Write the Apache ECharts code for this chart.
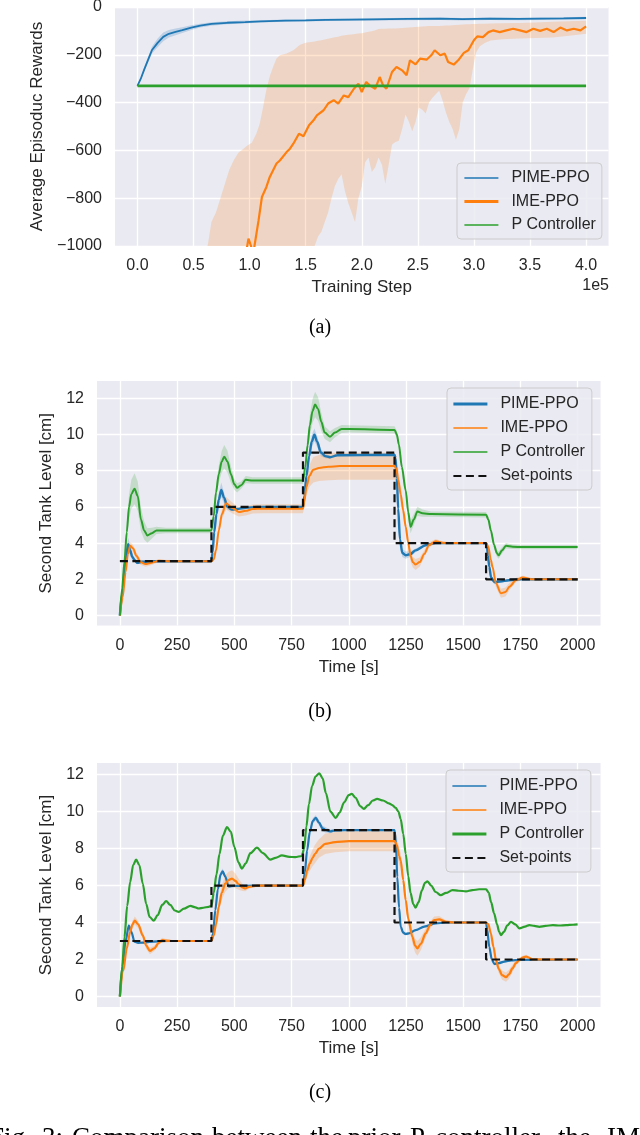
<!DOCTYPE html>
<html>
<head>
<meta charset="utf-8">
<script src="https://cdn.jsdelivr.net/npm/echarts@6/dist/echarts.min.js"></script>
<style>
  html, body { margin: 0; padding: 0; background: #fff; }
  #chart { width: 640px; height: 1135px; }
</style>
</head>
<body>
<div id="chart"></div>
<script>
// ---- tick labels ----
let aXTicks = [0, 0.5, 1.0, 1.5, 2.0, 2.5, 3.0, 3.5, 4.0];
let aYTicks = [-1000, -800, -600, -400, -200, 0];
let tXTicks = [0, 250, 500, 750, 1000, 1250, 1500, 1750, 2000];
let tYTicks = [0, 2, 4, 6, 8, 10, 12];

// ---- (a) average episodic rewards, x in 1e5 steps ----
let aBlueX = [0, 0.03, 0.06, 0.10, 0.13, 0.18, 0.23, 0.28, 0.34, 0.40, 0.48, 0.56, 0.66, 0.80, 0.96, 1.10, 1.32, 1.50, 1.68, 1.90, 2.10, 2.41, 2.70, 2.90, 3.14, 3.40, 3.60, 3.80, 4.00];
let aBlueY = [-330, -300, -262, -215, -180, -150, -125, -112, -104, -97, -86, -78, -71, -66, -63, -60, -57, -56, -54, -53, -52, -50, -49, -51, -49, -50, -49, -48, -46];
let aBlueS = [0, 5, 8, 12, 15, 18, 18, 16, 14, 12, 10, 8, 7, 6, 6, 5, 5, 5, 5, 5, 5, 5, 5, 5, 5, 5, 5, 5, 5];

let aOrangeX = [0.95, 0.99, 1.02, 1.04, 1.08, 1.11, 1.15, 1.18, 1.24, 1.27, 1.33, 1.36, 1.39, 1.44, 1.48, 1.53, 1.57, 1.60, 1.66, 1.70, 1.75, 1.79, 1.84, 1.88, 1.93, 1.97, 2.00, 2.04, 2.07, 2.12, 2.16, 2.19, 2.22, 2.27, 2.31, 2.36, 2.40, 2.43, 2.48, 2.52, 2.58, 2.62, 2.65, 2.70, 2.74, 2.77, 2.82, 2.86, 2.91, 2.95, 3.00, 3.03, 3.08, 3.13, 3.17, 3.23, 3.29, 3.35, 3.41, 3.47, 3.53, 3.59, 3.65, 3.71, 3.77, 3.83, 3.89, 3.95, 4.0];
let aOrangeY = [-1080, -969, -1010, -1010, -893, -795, -753, -711, -655, -642, -607, -593, -572, -530, -541, -495, -474, -453, -432, -404, -390, -404, -370, -377, -342, -321, -356, -314, -328, -342, -293, -328, -342, -272, -251, -265, -286, -223, -240, -216, -220, -202, -181, -202, -195, -230, -241, -223, -192, -181, -139, -123, -126, -105, -98, -105, -98, -91, -98, -105, -91, -100, -91, -105, -86, -98, -91, -98, -81];

let aBandX = [0.60, 0.63, 0.66, 0.70, 0.74, 0.78, 0.82, 0.86, 0.90, 0.94, 0.98, 1.02, 1.06, 1.09, 1.12, 1.15, 1.18, 1.21, 1.24, 1.27, 1.33, 1.39, 1.45, 1.50, 1.55, 1.58, 1.61, 1.64, 1.67, 1.70, 1.73, 1.76, 1.79, 1.82, 1.85, 1.88, 1.91, 1.94, 1.97, 2.00, 2.03, 2.06, 2.09, 2.12, 2.15, 2.18, 2.21, 2.24, 2.27, 2.30, 2.33, 2.36, 2.39, 2.42, 2.45, 2.48, 2.51, 2.54, 2.57, 2.60, 2.63, 2.66, 2.69, 2.72, 2.75, 2.78, 2.81, 2.84, 2.87, 2.90, 2.93, 2.96, 2.99, 3.02, 3.05, 3.10, 3.15, 3.25, 3.40, 3.55, 3.70, 3.85, 4.00];
let aBandHi = [-1050, -990, -900, -860, -800, -740, -680, -640, -610, -595, -580, -568, -530, -490, -420, -345, -290, -250, -215, -202, -195, -181, -158, -150, -146, -144, -141, -139, -136, -133, -130, -127, -124, -120, -118, -116, -115, -113, -111, -110, -107, -104, -101, -97, -92, -91, -91, -90, -90, -90, -89, -88, -87, -86, -85, -84, -83, -82, -81, -80, -80, -79, -79, -78, -77, -77, -76, -75, -74, -73, -72, -72, -71, -71, -70, -70, -69, -68, -67, -65, -62, -60, -58];
let aBandLo = [-1300, -1300, -1300, -1300, -1300, -1300, -1300, -1300, -1300, -1300, -1300, -1300, -1300, -1300, -1300, -1300, -1300, -1300, -1300, -1300, -1300, -1300, -1300, -1300, -1150, -1000, -960, -940, -900, -860, -800, -750, -720, -700, -770, -820, -860, -900, -800, -750, -650, -630, -690, -670, -630, -660, -740, -660, -575, -565, -560, -510, -450, -480, -520, -480, -420, -430, -446, -400, -380, -365, -350, -390, -440, -480, -510, -555, -510, -400, -365, -340, -260, -190, -165, -150, -140, -135, -132, -130, -128, -120, -112];

let aGreenX = [0, 4.0];
let aGreenY = [-330, -330];

// ---- set-points, shared by (b) and (c) ----
let spT = [0, 400, 400, 800, 800, 1200, 1200, 1600, 1600, 2000];
let spV = [3, 3, 6, 6, 9, 9, 4, 4, 2, 2];

// ---- (b) ----
let bBlueT = [0, 10, 25, 36, 45, 54, 65, 76, 97, 150, 400, 405, 412, 422, 432, 443, 455, 470, 490, 510, 550, 600, 800, 806, 815, 827, 838, 850, 862, 878, 897, 918, 950, 1200, 1204, 1210, 1216, 1224, 1234, 1249, 1270, 1292, 1336, 1380, 1600, 1604, 1608, 1614, 1622, 1636, 1660, 1700, 1750, 2000];
let bBlueY = [0, 1.2, 3.06, 3.94, 3.6, 3.24, 3.06, 2.91, 2.97, 3.0, 3.0, 3.5, 4.6, 5.6, 6.4, 6.94, 6.5, 6.0, 5.85, 5.88, 5.95, 6.0, 6.0, 6.6, 7.7, 8.8, 9.6, 9.98, 9.6, 9.0, 8.8, 8.74, 8.85, 8.88, 8.7, 7.6, 5.9, 4.2, 3.45, 3.33, 3.4, 3.6, 3.88, 4.0, 4.0, 3.8, 3.3, 2.7, 2.1, 1.85, 1.87, 1.95, 2.0, 2.0];
let bBlueS = [0, 0.1, 0.25, 0.35, 0.3, 0.2, 0.1, 0.08, 0.05, 0.05, 0.05, 0.08, 0.2, 0.3, 0.35, 0.4, 0.3, 0.15, 0.08, 0.06, 0.05, 0.05, 0.05, 0.1, 0.2, 0.3, 0.35, 0.35, 0.3, 0.2, 0.12, 0.08, 0.06, 0.06, 0.08, 0.15, 0.2, 0.22, 0.22, 0.2, 0.15, 0.1, 0.06, 0.05, 0.05, 0.08, 0.12, 0.15, 0.15, 0.12, 0.08, 0.06, 0.05, 0.05];

let bOrangeT = [0, 12, 25, 35, 45, 58, 72, 90, 112, 135, 170, 220, 400, 410, 420, 432, 446, 464, 490, 519, 550, 580, 620, 800, 806, 815, 828, 845, 870, 911, 960, 1200, 1208, 1216, 1227, 1238, 1249, 1260, 1270, 1280, 1292, 1310, 1330, 1351, 1380, 1409, 1440, 1600, 1610, 1621, 1628, 1643, 1665, 1685, 1702, 1731, 1760, 1804, 2000];
let bOrangeY = [0, 1.0, 2.4, 3.4, 3.85, 3.7, 3.3, 2.95, 2.84, 2.9, 3.02, 3.0, 3.0, 3.1, 3.6, 4.7, 5.6, 6.2, 5.95, 5.72, 5.78, 5.88, 5.9, 5.9, 6.3, 7.1, 7.7, 8.05, 8.15, 8.22, 8.25, 8.25, 8.1, 7.5, 6.7, 5.8, 4.9, 4.0, 3.3, 2.95, 2.82, 2.95, 3.4, 3.9, 4.1, 4.02, 4.0, 4.0, 3.8, 3.06, 2.69, 1.78, 1.23, 1.3, 1.59, 1.96, 2.1, 2.0, 2.0];
let bOrangeS = [0, 0.05, 0.12, 0.18, 0.2, 0.2, 0.18, 0.15, 0.15, 0.12, 0.08, 0.06, 0.06, 0.08, 0.15, 0.25, 0.3, 0.35, 0.3, 0.25, 0.25, 0.25, 0.25, 0.25, 0.3, 0.45, 0.6, 0.7, 0.72, 0.75, 0.75, 0.75, 0.72, 0.6, 0.45, 0.38, 0.35, 0.32, 0.3, 0.3, 0.3, 0.25, 0.2, 0.15, 0.12, 0.08, 0.06, 0.06, 0.08, 0.12, 0.15, 0.2, 0.25, 0.25, 0.2, 0.12, 0.1, 0.06, 0.05];

let bGreenT = [0, 10, 20, 30, 40, 50, 64, 78, 92, 106, 120, 140, 160, 200, 400, 410, 420, 432, 445, 456, 470, 485, 500, 512, 530, 550, 580, 800, 810, 820, 830, 842, 853, 866, 880, 895, 918, 940, 969, 1000, 1200, 1210, 1219, 1232, 1249, 1260, 1270, 1284, 1300, 1322, 1360, 1600, 1610, 1621, 1635, 1647, 1655, 1670, 1687, 1716, 1760, 2000];
let bGreenY = [0, 1.5, 3.0, 4.6, 6.0, 6.7, 7.0, 6.6, 5.3, 4.7, 4.42, 4.55, 4.7, 4.7, 4.7, 5.5, 6.8, 7.8, 8.5, 8.77, 8.5, 7.8, 7.25, 7.05, 7.2, 7.5, 7.45, 7.45, 8.2, 9.4, 10.5, 11.3, 11.65, 11.4, 10.7, 10.1, 9.87, 10.1, 10.3, 10.3, 10.25, 10.0, 9.45, 8.2, 6.9, 5.7, 4.9, 5.3, 5.75, 5.65, 5.6, 5.57, 5.3, 4.7, 3.9, 3.45, 3.33, 3.6, 3.85, 3.8, 3.78, 3.78];
let bGreenS = [0, 0.15, 0.3, 0.5, 0.7, 0.8, 0.85, 0.8, 0.65, 0.5, 0.4, 0.3, 0.2, 0.15, 0.15, 0.2, 0.3, 0.45, 0.6, 0.65, 0.6, 0.45, 0.3, 0.25, 0.2, 0.2, 0.18, 0.18, 0.25, 0.4, 0.55, 0.65, 0.7, 0.65, 0.5, 0.35, 0.3, 0.25, 0.22, 0.2, 0.2, 0.2, 0.25, 0.3, 0.35, 0.35, 0.35, 0.3, 0.25, 0.2, 0.15, 0.15, 0.15, 0.2, 0.2, 0.2, 0.2, 0.18, 0.15, 0.12, 0.12, 0.12];

// ---- (c) ----
let cBlueT = [0, 12, 25, 39, 50, 64, 80, 97, 130, 200, 400, 407, 417, 428, 440, 449, 460, 475, 500, 600, 800, 808, 818, 830, 843, 856, 870, 885, 897, 919, 940, 980, 1200, 1206, 1212, 1220, 1227, 1238, 1249, 1265, 1292, 1330, 1380, 1424, 1600, 1605, 1614, 1625, 1636, 1655, 1680, 1710, 1746, 2000];
let cBlueY = [0, 1.7, 3.0, 3.83, 3.5, 2.96, 2.9, 2.91, 2.95, 3.0, 3.0, 3.4, 4.67, 5.8, 6.6, 6.77, 6.5, 5.96, 5.98, 6.0, 6.0, 6.7, 7.9, 8.9, 9.5, 9.66, 9.4, 9.1, 9.02, 8.93, 8.98, 9.0, 9.0, 8.3, 6.47, 4.8, 3.77, 3.45, 3.38, 3.42, 3.59, 3.78, 3.95, 4.0, 4.0, 3.6, 2.69, 2.0, 1.76, 1.8, 1.89, 1.95, 1.98, 2.0];
let cBlueS = [0, 0.05, 0.1, 0.12, 0.1, 0.06, 0.05, 0.04, 0.04, 0.04, 0.04, 0.06, 0.12, 0.15, 0.15, 0.15, 0.12, 0.08, 0.05, 0.04, 0.04, 0.06, 0.1, 0.12, 0.15, 0.15, 0.15, 0.15, 0.15, 0.1, 0.06, 0.04, 0.04, 0.06, 0.1, 0.12, 0.12, 0.1, 0.08, 0.08, 0.06, 0.05, 0.04, 0.04, 0.04, 0.06, 0.08, 0.08, 0.08, 0.06, 0.05, 0.04, 0.04, 0.04];

let cOrangeT = [0, 15, 30, 45, 55, 65, 80, 100, 115, 131, 150, 170, 185, 199, 230, 400, 410, 420, 432, 445, 460, 475, 490, 505, 519, 535, 548, 563, 600, 800, 808, 818, 830, 842, 853, 870, 897, 940, 1000, 1200, 1210, 1220, 1227, 1238, 1249, 1260, 1278, 1290, 1300, 1315, 1336, 1355, 1373, 1395, 1424, 1460, 1600, 1610, 1621, 1632, 1643, 1655, 1670, 1687, 1700, 1716, 1730, 1746, 1760, 1775, 1804, 1850, 2000];
let cOrangeY = [0, 1.4, 2.6, 3.5, 3.9, 4.1, 3.9, 3.3, 2.75, 2.46, 2.6, 2.9, 3.05, 3.02, 3.0, 3.0, 3.3, 3.9, 4.85, 5.6, 6.1, 6.3, 6.38, 6.25, 6.07, 5.9, 5.84, 5.93, 6.0, 6.0, 6.3, 6.8, 7.2, 7.5, 7.72, 8.0, 8.26, 8.35, 8.4, 8.4, 8.2, 7.6, 7.36, 6.3, 5.21, 4.2, 3.23, 2.75, 2.6, 2.85, 3.41, 3.85, 4.13, 4.17, 4.04, 4.0, 4.0, 3.9, 3.41, 2.7, 1.98, 1.5, 1.15, 1.04, 1.2, 1.53, 1.8, 1.98, 2.1, 2.16, 2.01, 2.0, 2.0];
let cOrangeS = [0, 0.05, 0.1, 0.15, 0.2, 0.22, 0.2, 0.18, 0.18, 0.18, 0.15, 0.12, 0.12, 0.1, 0.05, 0.05, 0.1, 0.2, 0.3, 0.4, 0.45, 0.45, 0.45, 0.4, 0.3, 0.2, 0.15, 0.1, 0.06, 0.06, 0.15, 0.3, 0.4, 0.45, 0.5, 0.5, 0.55, 0.55, 0.55, 0.55, 0.5, 0.45, 0.4, 0.35, 0.3, 0.3, 0.35, 0.38, 0.4, 0.35, 0.25, 0.2, 0.2, 0.18, 0.1, 0.06, 0.06, 0.08, 0.12, 0.15, 0.2, 0.22, 0.25, 0.25, 0.25, 0.2, 0.15, 0.12, 0.1, 0.1, 0.06, 0.05, 0.05];

let cGreenT = [0, 10, 20, 32, 45, 58, 71, 85, 100, 115, 130, 148, 165, 185, 202, 220, 240, 257, 280, 308, 330, 344, 365, 388, 400, 410, 422, 435, 450, 468, 485, 500, 518, 533, 550, 570, 599, 625, 657, 680, 708, 740, 766, 795, 805, 815, 826, 840, 855, 871, 886, 900, 920, 943, 960, 980, 1000, 1013, 1030, 1050, 1066, 1085, 1105, 1124, 1150, 1175, 1190, 1205, 1217, 1227, 1238, 1249, 1260, 1270, 1282, 1292, 1305, 1320, 1333, 1344, 1360, 1380, 1402, 1425, 1453, 1480, 1512, 1540, 1570, 1600, 1612, 1622, 1635, 1648, 1657, 1665, 1678, 1693, 1709, 1728, 1746, 1770, 1789, 1810, 1833, 1860, 1892, 1920, 1950, 1980, 2000];
let cGreenY = [0, 1.6, 3.2, 4.9, 6.2, 7.1, 7.4, 7.1, 6.1, 5.0, 4.3, 4.1, 4.4, 4.95, 5.16, 4.95, 4.65, 4.58, 4.75, 4.9, 4.82, 4.76, 4.8, 4.85, 4.9, 5.6, 6.6, 7.7, 8.7, 9.16, 8.9, 8.1, 7.25, 6.92, 7.2, 7.75, 8.05, 7.75, 7.4, 7.5, 7.63, 7.55, 7.54, 7.6, 8.0, 9.2, 10.4, 11.4, 11.9, 12.07, 11.8, 11.0, 10.0, 9.66, 9.95, 10.5, 10.9, 10.96, 10.75, 10.3, 10.15, 10.35, 10.6, 10.69, 10.6, 10.45, 10.35, 10.2, 10.0, 9.6, 8.8, 7.72, 6.5, 5.6, 5.0, 4.8, 5.1, 5.75, 6.15, 6.23, 6.0, 5.65, 5.48, 5.6, 5.75, 5.72, 5.69, 5.75, 5.8, 5.8, 5.6, 5.1, 4.5, 3.9, 3.5, 3.32, 3.5, 3.85, 4.04, 3.9, 3.68, 3.78, 3.86, 3.82, 3.77, 3.82, 3.86, 3.84, 3.86, 3.88, 3.9];

// ---- figure caption (justified line, cut at the bottom edge) ----
let captionWords = ['Fig.', '3:', 'Comparison', 'between', 'the', 'prior', 'P', 'controller,', 'the', 'IME'];
let captionX = [-11, 42, 72, 212, 310, 348, 410, 435, 558, 607];

// ---- style ----
const BG = '#EAEAF2';
const TXT = '#262626';
const SANS = '"Liberation Sans", Arial, sans-serif';
const SERIF = '"Liberation Serif", "Times New Roman", serif';
const BLUE = '#1f77b4', ORANGE = '#ff7f0e', GREEN = '#2ca02c';

function zip(xs, ys) {
    return xs.map(function (x, i) { return [x, ys[i]]; });
}

function line(name, g, xs, ys, color, width, smooth, dash) {
    return {
        name: name, type: 'line', xAxisIndex: g, yAxisIndex: g,
        data: zip(xs, ys), symbol: 'none', showSymbol: false, clip: true,
        smooth: smooth, smoothMonotone: 'x',
        lineStyle: { color: color, width: width, type: dash || 'solid' },
        itemStyle: { color: color },
        emphasis: { disabled: true }, silent: true
    };
}

// shaded band drawn as one polygon through the axis scales
function band(g, xs, lo, hi, color, opacity) {
    return {
        type: 'custom', xAxisIndex: g, yAxisIndex: g, clip: true, silent: true,
        data: xs.map(function (x, i) { return [x, lo[i], hi[i]]; }),
        encode: { x: 0, y: [1, 2] },
        renderItem: function (params, api) {
            if (params.dataIndex !== 0) return null;
            let pts = [];
            for (let i = 0; i < xs.length; i++) pts.push(api.coord([xs[i], hi[i]]));
            for (let i = xs.length - 1; i >= 0; i--) pts.push(api.coord([xs[i], lo[i]]));
            return { type: 'polygon', shape: { points: pts }, style: { fill: color, opacity: opacity } };
        }
    };
}

function spreadBand(g, xs, ys, ss, color, opacity) {
    let lo = ys.map(function (y, i) { return y - ss[i]; });
    let hi = ys.map(function (y, i) { return y + ss[i]; });
    return band(g, xs, lo, hi, color, opacity);
}

function minus(v) {
    return v < 0 ? '\u2212' + Math.abs(v) : String(v);
}

function xAxis(g, min, max, ticks, fmt, name, gap) {
    return {
        type: 'value', gridIndex: g, min: min, max: max,
        axisLine: { show: false },
        axisTick: { show: false, customValues: ticks },
        axisLabel: { customValues: ticks, formatter: fmt, fontSize: 16, fontFamily: SANS, color: TXT, margin: 12 },
        splitLine: { show: true, lineStyle: { color: '#ffffff', width: 1.3 } },
        name: name, nameLocation: 'middle', nameGap: gap,
        nameTextStyle: { fontSize: 17, fontFamily: SANS, color: TXT }
    };
}

function yAxis(g, min, max, ticks, fmt, name, gap) {
    return {
        type: 'value', gridIndex: g, min: min, max: max,
        axisLine: { show: false },
        axisTick: { show: false, customValues: ticks },
        axisLabel: { customValues: ticks, formatter: fmt, fontSize: 16, fontFamily: SANS, color: TXT, margin: 13 },
        splitLine: { show: true, lineStyle: { color: '#ffffff', width: 1.3 } },
        name: name, nameLocation: 'middle', nameGap: gap,
        nameTextStyle: { fontSize: 17, fontFamily: SANS, color: TXT }
    };
}

function legendItem(name, width) {
    return { name: name, lineStyle: { width: width }, itemStyle: { opacity: 0 } };
}

function legend(top, left, pad, gap, items) {
    return {
        orient: 'vertical', top: top, left: left, padding: pad, itemGap: gap,
        itemWidth: 34, itemHeight: 14, selectedMode: false,
        backgroundColor: 'rgba(234,234,242,0.85)', borderColor: '#cccccc', borderWidth: 1, borderRadius: 4,
        textStyle: { fontSize: 16, fontFamily: SANS, color: TXT, lineHeight: 16, padding: [0, 0, 0, 8] },
        data: items
    };
}

let captionText = captionWords.map(function (w, i) {
    return { type: 'text', x: captionX[i], y: 1125, style: { text: w, font: '27px ' + SERIF, fill: '#000', verticalAlign: 'top', textVerticalAlign: 'top' } };
});

let option = {
    animation: false,
    backgroundColor: '#ffffff',
    grid: [
        { left: 115, right: 31.5, top: 7, height: 239, show: true, backgroundColor: BG, borderWidth: 0, outerBoundsMode: 'none' },
        { left: 97, right: 39.5, top: 381, height: 244.5, show: true, backgroundColor: BG, borderWidth: 0, outerBoundsMode: 'none' },
        { left: 97, right: 39.5, top: 763, height: 244, show: true, backgroundColor: BG, borderWidth: 0, outerBoundsMode: 'none' }
    ],
    xAxis: [
        xAxis(0, -0.2, 4.2, aXTicks, function (v) { return v.toFixed(1); }, 'Training Step', 33),
        xAxis(1, -100, 2100, tXTicks, function (v) { return String(v); }, 'Time [s]', 33),
        xAxis(2, -100, 2100, tXTicks, function (v) { return String(v); }, 'Time [s]', 33)
    ],
    yAxis: [
        yAxis(0, -1000, 0, aYTicks, minus, 'Average Episoduc Rewards', 60),
        yAxis(1, -0.55, 12.95, tYTicks, minus, 'Second Tank Level [cm]', 38),
        yAxis(2, -0.57, 12.63, tYTicks, minus, 'Second Tank Level [cm]', 38)
    ],
    legend: [
        legend(163, 457, [7, 6, 6, 6], 7.5, [
            legendItem('PIME-PPO', 1.7),
            legendItem('IME-PPO', 2.8),
            legendItem('P Controller', 1.7)
        ]),
        legend(388, 447, [8, 7, 6, 5], 8, [
            legendItem('PIME-PPO', 2.8),
            legendItem('IME-PPO', 1.4),
            legendItem('P Controller', 1.7),
            legendItem('Set-points', 2.2)
        ]),
        legend(770, 446, [8, 7, 6, 5], 8, [
            legendItem('PIME-PPO', 1.7),
            legendItem('IME-PPO', 1.7),
            legendItem('P Controller', 2.8),
            legendItem('Set-points', 2.2)
        ])
    ],
    series: [
        // (a)
        spreadBand(0, aBlueX, aBlueY, aBlueS, BLUE, 0.22),
        line('PIME-PPO', 0, aBlueX, aBlueY, BLUE, 1.8, false),
        band(0, aBandX, aBandLo, aBandHi, ORANGE, 0.2),
        line('IME-PPO', 0, aOrangeX, aOrangeY, ORANGE, 2.2, false),
        line('P Controller', 0, aGreenX, aGreenY, GREEN, 2.8, false),
        // (b)
        spreadBand(1, bBlueT, bBlueY, bBlueS, BLUE, 0.22),
        line('PIME-PPO', 1, bBlueT, bBlueY, BLUE, 2.4, 0.3),
        spreadBand(1, bOrangeT, bOrangeY, bOrangeS, ORANGE, 0.22),
        line('IME-PPO', 1, bOrangeT, bOrangeY, ORANGE, 2.0, 0.3),
        spreadBand(1, bGreenT, bGreenY, bGreenS, GREEN, 0.2),
        line('P Controller', 1, bGreenT, bGreenY, GREEN, 2.0, 0.3),
        line('Set-points', 1, spT, spV, '#111111', 2.2, false, [8, 4.5]),
        // (c)
        spreadBand(2, cBlueT, cBlueY, cBlueS, BLUE, 0.22),
        line('PIME-PPO', 2, cBlueT, cBlueY, BLUE, 2.2, 0.3),
        spreadBand(2, cOrangeT, cOrangeY, cOrangeS, ORANGE, 0.22),
        line('IME-PPO', 2, cOrangeT, cOrangeY, ORANGE, 2.2, 0.3),
        line('P Controller', 2, cGreenT, cGreenY, GREEN, 2.2, 0.3),
        line('Set-points', 2, spT, spV, '#111111', 2.2, false, [8, 4.5])
    ],
    graphic: [
        { type: 'text', x: 609, y: 278, style: { text: '1e5', font: '16px ' + SANS, fill: TXT, align: 'right', textAlign: 'right', verticalAlign: 'top', textVerticalAlign: 'top' } },
        { type: 'text', x: 320, y: 328, style: { text: '(a)', font: '20px ' + SERIF, fill: '#000', align: 'center', textAlign: 'center', verticalAlign: 'middle', textVerticalAlign: 'middle' } },
        { type: 'text', x: 320, y: 712, style: { text: '(b)', font: '20px ' + SERIF, fill: '#000', align: 'center', textAlign: 'center', verticalAlign: 'middle', textVerticalAlign: 'middle' } },
        { type: 'text', x: 320, y: 1093, style: { text: '(c)', font: '20px ' + SERIF, fill: '#000', align: 'center', textAlign: 'center', verticalAlign: 'middle', textVerticalAlign: 'middle' } }
    ].concat(captionText)
};

let myChart = echarts.init(document.getElementById('chart'));
myChart.setOption(option);
</script>
</body>
</html>
